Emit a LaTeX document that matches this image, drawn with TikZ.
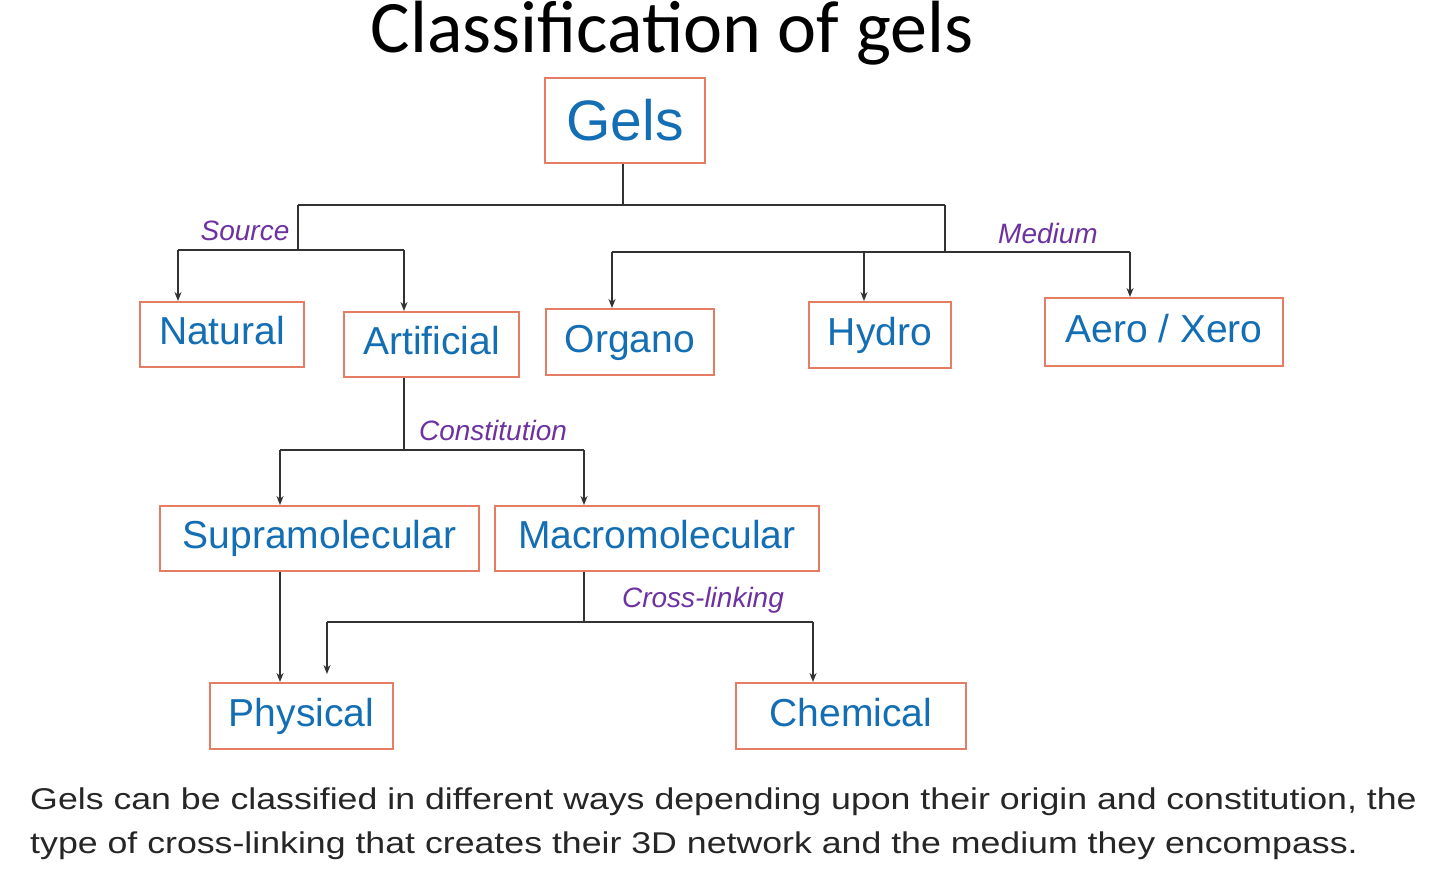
\documentclass[tikz,border=0pt]{standalone}
\usepackage{fontspec}
\setmainfont{Liberation Sans}
\newfontfamily\titlefont{Carlito}
\usetikzlibrary{arrows.meta}
\definecolor{bx}{RGB}{228,125,100}
\definecolor{tx}{RGB}{20,110,180}
\definecolor{lb}{RGB}{110,50,160}
\definecolor{ln}{RGB}{50,50,50}
\begin{document}
\begin{tikzpicture}[x=1pt,y=-1pt,
  bxs/.style={draw=bx,line width=2pt,text=tx,inner sep=0pt,text height=28pt,text depth=8pt,font=\fontsize{39}{40}\selectfont},
  lab/.style={text=lb,font=\itshape\fontsize{28}{30}\selectfont,inner sep=0pt},
  cn/.style={draw=ln,line width=2.2pt},
  ar/.style={cn,-{Stealth[length=9pt,width=7pt]}}]
\useasboundingbox (0,0) rectangle (1440,872);
\fill[white] (0,0) rectangle (1440,872);
\node[font=\titlefont\fontsize{74}{78}\selectfont] (title) at (672,33) {Classification of gels};
\node[bxs,minimum width=160pt,minimum height=85pt,text height=42pt,text depth=2pt,font=\fontsize{57}{60}\selectfont] (gels) at (625,120.5) {Gels};
\node[bxs,minimum width=164pt,minimum height=65pt] (nat) at (222,334.5) {Natural};
\node[bxs,minimum width=175pt,minimum height=65pt] (art) at (431.5,344.5) {Artificial};
\node[bxs,minimum width=168pt,minimum height=66pt] (org) at (630,342) {Organo};
\node[bxs,minimum width=142pt,minimum height=66pt] (hyd) at (880,335) {Hydro};
\node[bxs,minimum width=238pt,minimum height=68pt] (aer) at (1164,332) {Aero / Xero};
\node[bxs,minimum width=319pt,minimum height=65pt] (sup) at (319.5,538.5) {Supramolecular};
\node[bxs,minimum width=324pt,minimum height=65pt] (mac) at (657,538.5) {Macromolecular};
\node[bxs,minimum width=183pt,minimum height=66pt] (phy) at (301.5,716) {Physical};
\node[bxs,minimum width=230pt,minimum height=66pt] (che) at (851,716) {Chemical};
\coordinate (g1) at (623,205);
\coordinate (sl) at (298,205); \coordinate (sr) at (945,205);
\coordinate (s2) at (298,250); \coordinate (m2) at (945,252);
\draw[cn] (gels.south -| g1) -- (g1);
\draw[cn] (sl) -- (sr);
\draw[cn] (sl) -- (s2);
\draw[cn] (sr) -- (m2);
\draw[cn] (178,250) -- (404,250);
\draw[ar] (178,250) -- (nat.north -| 178,0);
\draw[ar] (404,250) -- (art.north -| 404,0);
\draw[cn] (612,252) -- (1130,252);
\draw[ar] (612,252) -- (org.north -| 612,0);
\draw[ar] (864,252) -- (hyd.north -| 864,0);
\draw[ar] (1130,252) -- (aer.north -| 1130,0);
\node[lab] (src) at (245,231) {Source};
\node[lab] (med) at (1048,233) {Medium};
\draw[cn] (art.south -| 404,0) -- (404,450);
\draw[cn] (280,450) -- (584,450);
\draw[ar] (280,450) -- (sup.north -| 280,0);
\draw[ar] (584,450) -- (mac.north -| 584,0);
\node[lab] (con) at (493,430) {Constitution};
\draw[ar] (sup.south -| 280,0) -- (phy.north -| 280,0);
\draw[cn] (mac.south -| 584,0) -- (584,622);
\draw[cn] (327,622) -- (813,622);
\draw[ar] (327,622) -- (327,674);
\draw[ar] (813,622) -- (che.north -| 813,0);
\node[lab] (cro) at (703,600) {Cross-linking};
\node[anchor=west,align=left,inner sep=0pt,xscale=1.19,font=\fontsize{30}{44}\selectfont,text=black!85] (cap) at (30,824)
 {Gels can be classified in different ways depending upon their origin and constitution, the\\type of cross-linking that creates their 3D network and the medium they encompass.};
\end{tikzpicture}
\end{document}
